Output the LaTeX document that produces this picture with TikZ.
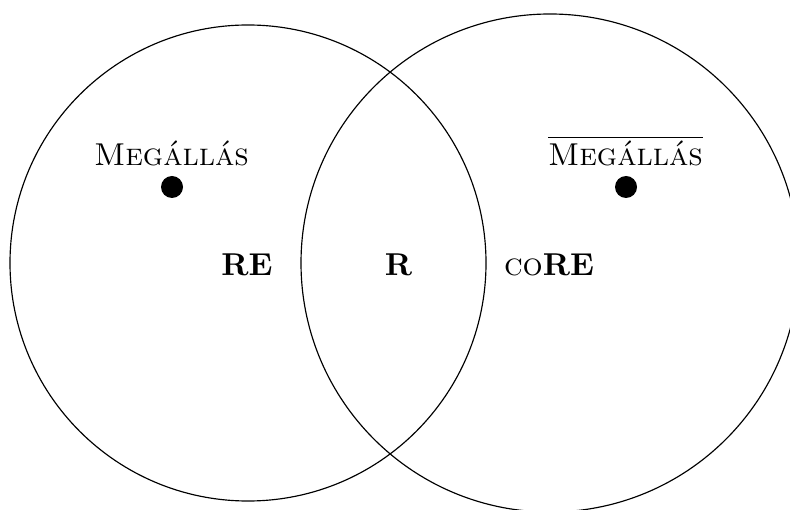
\documentclass[tikz,border=0pt]{standalone}
\usepackage{fontspec}
\begin{document}
\begin{tikzpicture}[x=0.01212cm,y=-0.01212cm,
  setline/.style={line width=0.4pt},
  dotmark/.style={circle,fill=black,inner sep=0pt,minimum size=22*0.01212cm},
  lbl/.style={anchor=base,inner sep=0pt,font=\fontsize{10.9}{13}\selectfont}]
\useasboundingbox (0,0) rectangle (790,509);
\clip (0,0) rectangle (790,509);
\draw[setline] (248,263) circle[radius=238];
\draw[setline] (550,263) circle[radius=249];
\node[lbl] (halt) at (171.5,166) {\textsc{Megállás}};
\node[lbl] (cohalt) at (625.5,166) {$\overline{\mbox{\textsc{Megállás}}}$};
\node[dotmark] (d1) at (172,187) {};
\node[dotmark] (d2) at (626,187) {};
\node[lbl] (re) at (247,275) {\textbf{RE}};
\node[lbl] (r) at (398.5,275) {\textbf{R}};
\node[lbl] (core) at (549,275) {\textsc{co}\textbf{RE}};
\end{tikzpicture}
\end{document}
